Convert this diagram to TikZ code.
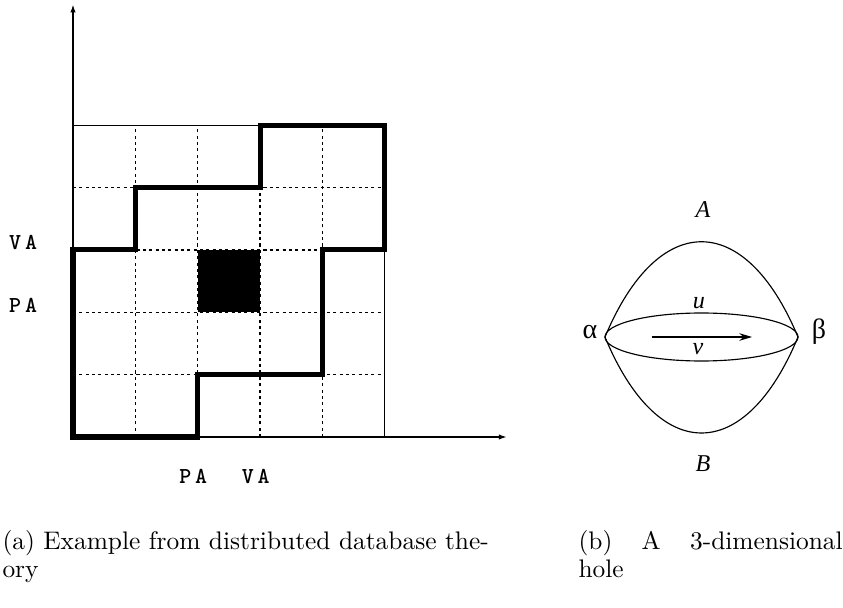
\documentclass[tikz,border=0pt]{standalone}
\usepackage{fontspec}
\newfontfamily\holefont{Liberation Serif}
\usetikzlibrary{arrows.meta}

\begin{document}
\begin{tikzpicture}[
    x=0.3937pt, y=-0.3937pt,
    axis/.style={-{Latex[length=3pt,width=2.2pt]}, line width=0.45pt},
    gridline/.style={line width=0.45pt, dash pattern=on 1.2pt off 1.3pt},
    frameline/.style={line width=0.45pt},
    boundary/.style={line width=2pt, line join=miter},
    tag/.style={font=\fontsize{9}{10}\selectfont\ttfamily\bfseries, inner sep=0pt, anchor=base},
    holelabel/.style={font=\holefont\itshape\fontsize{9.5}{11}\selectfont, inner sep=0pt},
    endlabel/.style={font=\holefont\fontsize{11}{12}\selectfont, inner sep=0pt},
    holearrow/.style={-{Stealth[length=5pt,width=3pt]}, line width=0.45pt},
    caption/.style={align=left, anchor=base west, inner sep=0pt, font=\fontsize{10}{11}\selectfont}
]
\useasboundingbox (0,0) rectangle (843,608);

% Grid with the two axes
\begin{scope}[shift={(73,437)}, x=24.55pt, y=24.55pt]
    \coordinate (origin) at (0,0);
    \coordinate (ytop) at (0,6.93);
    \coordinate (xend) at (6.95,0);

    % dotted cell lines
    \foreach \i in {1,...,4} {
        \draw [gridline] (\i,0) -- (\i,5);
        \draw [gridline] (0,\i) -- (5,\i);
    }
    \draw [frameline] (0,5) -- (5,5) -- (5,0);

    % Axes
    \draw [axis] (origin) -- (ytop);
    \draw [axis] (origin) -- (xend);

    % Blocked cell
    \fill (2,2) rectangle (3,3);

    % Thick region border
    \draw [boundary] (0,0) -- (2,0) -- (2,1) -- (4,1) -- (4,3) -- (5,3)
        -- (5,5) -- (3,5) -- (3,4) -- (1,4) -- (1,3) -- (0,3) -- cycle;

    % Axis labels
    \node [tag] (va_left) at (-0.8,3) {V\,A};
    \node [tag] (pa_left) at (-0.8,2) {P\,A};
    \node [tag] (pa_bottom) at (1.93,-0.74) {P\,A};
    \node [tag] (va_bottom) at (2.93,-0.74) {V\,A};
\end{scope}

% 3-dimensional hole
\coordinate (left_end) at (605,337);
\coordinate (right_end) at (798,337);
\draw [line width=0.45pt] (701.5,337) ellipse [x radius=96.5, y radius=24];
\draw [line width=0.45pt] (left_end) .. controls (658,210) and (745,210) .. (right_end);
\draw [line width=0.45pt] (left_end) .. controls (658,465) and (745,465) .. (right_end);
\coordinate (arrow_start) at (652,337);
\coordinate (arrow_end) at (752,337);
\draw [holearrow] (arrow_start) -- (arrow_end);

\node [endlabel] (alpha) at (590,332) {α};
\node [endlabel] (beta) at (819,332) {β};
\node [holelabel] (upper) at (703,210) {A};
\node [holelabel] (lower) at (703,464) {B};
\node [holelabel] (u_label) at (699,303) {u};
\node [holelabel] (v_label) at (698,349) {v};

% Captions
\node [caption, text width=196pt] (caption_a) at (2,550)
    {(a) Example from distributed database the-\\ory};
\node [caption, text width=104pt] (caption_b) at (578,550)
    {\hbox to 104pt{(b)\hfill A\hfill 3-dimensional}\\hole};

\end{tikzpicture}
\end{document}
